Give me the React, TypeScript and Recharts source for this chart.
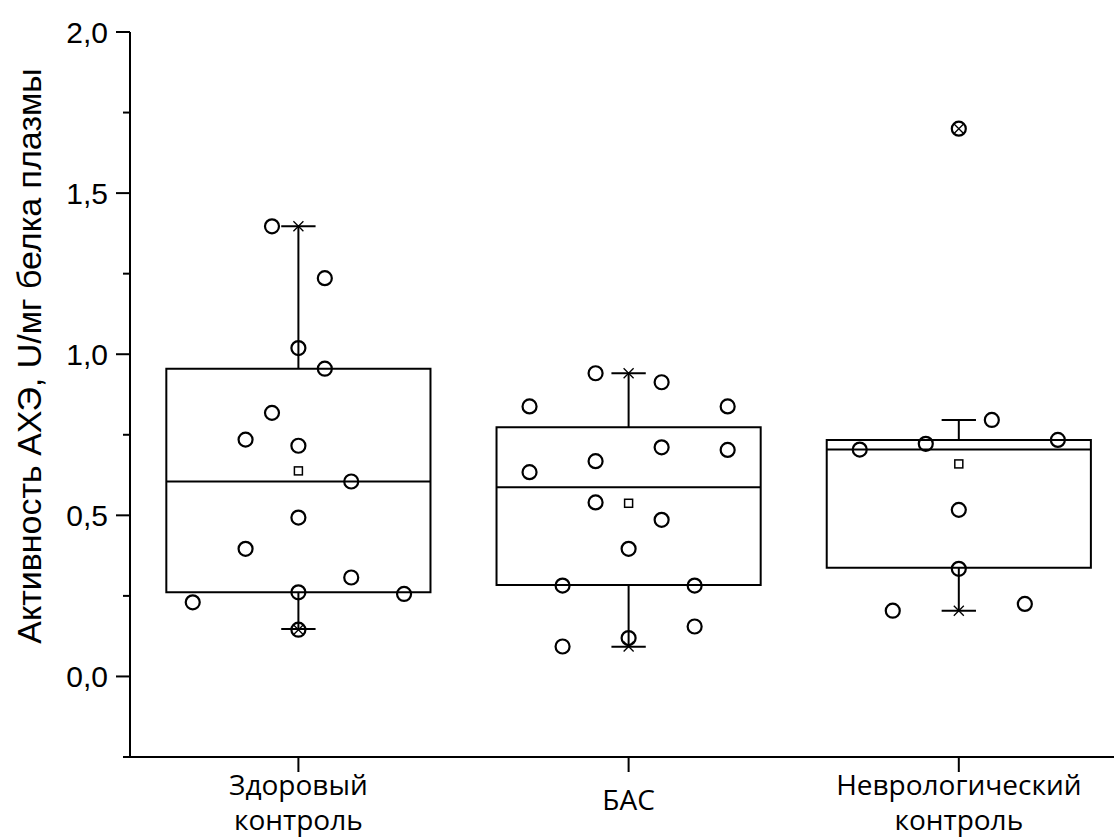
import {
  ComposedChart,
  ReferenceArea,
  ReferenceLine,
  Scatter,
  XAxis,
  YAxis,
} from 'recharts';

// group names (two-line tick labels)
const groupLines = [['Здоровый', 'контроль'], ['БАС'], ['Неврологический', 'контроль']];

const healthyValues = [1.397, 1.236, 1.019, 0.955, 0.818, 0.735, 0.716, 0.605, 0.493, 0.396, 0.307, 0.261, 0.256, 0.23, 0.145];
const healthyJitter = [-0.08, 0.08, 0, 0.08, -0.08, -0.16, 0, 0.16, 0, -0.16, 0.16, 0, 0.32, -0.32, 0];

const alsValues = [0.941, 0.913, 0.838, 0.838, 0.711, 0.703, 0.668, 0.634, 0.54, 0.486, 0.396, 0.282, 0.282, 0.155, 0.119, 0.093];
const alsJitter = [-0.1, 0.1, -0.3, 0.3, 0.1, 0.3, -0.1, -0.3, -0.1, 0.1, 0, -0.2, 0.2, 0.2, 0, -0.2];

const neuroValues = [1.7, 0.796, 0.734, 0.722, 0.704, 0.517, 0.334, 0.225, 0.204];
const neuroJitter = [0, 0.1, 0.3, -0.1, -0.3, 0, 0, 0.2, -0.2];

// box statistics
const q1 = [0.261, 0.284, 0.337];
const median = [0.605, 0.587, 0.704];
const q3 = [0.955, 0.773, 0.734];
const whiskerLow = [0.147, 0.092, 0.204];
const whiskerHigh = [1.397, 0.941, 0.796];

const yTicks = [-0.25, 0, 0.25, 0.5, 0.75, 1, 1.25, 1.5, 1.75, 2];

const allValues = [healthyValues, alsValues, neuroValues];
const allJitter = [healthyJitter, alsJitter, neuroJitter];

const points = allValues.flatMap((vals, g) =>
  vals.map((v, i) => ({ x: g + 1 + allJitter[g][i], y: v }))
);
const means = allValues.map((vals, g) => ({
  x: g + 1,
  y: vals.reduce((a, b) => a + b, 0) / vals.length,
}));
const extremes = allValues.flatMap((vals, g) => [
  { x: g + 1, y: Math.min(...vals) },
  { x: g + 1, y: Math.max(...vals) },
]);

const BOX_HALF = 0.4;
const CAP_HALF = 0.052;

const YTick = ({ x, y, payload }: any) => {
  const v = payload.value;
  const major = Math.abs(v * 2 - Math.round(v * 2)) < 1e-6;
  return (
    <g>
      <line x1={x - (major ? 14 : 7)} x2={x} y1={y} y2={y} stroke="#000" strokeWidth={2} />
      {major && (
        <text
          x={x - 22}
          y={y}
          dy="0.36em"
          textAnchor="end"
          fontSize={30}
          fontFamily="'Liberation Sans', Arial, sans-serif"
          fill="#000"
        >
          {v.toFixed(1).replace('.', ',')}
        </text>
      )}
    </g>
  );
};

const XTick = ({ x, y, payload }: any) => {
  const lines = groupLines[Math.round(payload.value) - 1] || [];
  const common = {
    textAnchor: 'middle' as const,
    fontSize: 28,
    fontFamily: "'Open Sans', sans-serif",
    fill: '#000',
  };
  if (lines.length === 1) {
    return (
      <text x={x} y={y + 38} {...common}>
        {lines[0]}
      </text>
    );
  }
  return (
    <g>
      {lines.map((l: string, i: number) => (
        <text key={i} x={x} y={y + 23 + i * 35} {...common}>
          {l}
        </text>
      ))}
    </g>
  );
};

const YLabel = () => (
  <text
    transform="translate(29, 356) rotate(-90)"
    dy="0.36em"
    textAnchor="middle"
    fontSize={34}
    fontFamily="'Liberation Sans', Arial, sans-serif"
    fill="#000"
  >
    Активность АХЭ, U/мг белка плазмы
  </text>
);

const Circle = (p: any) => (
  <circle cx={p.cx} cy={p.cy} r={7} fill="none" stroke="#000" strokeWidth={2.2} />
);
const Square = (p: any) => (
  <rect x={p.cx - 4} y={p.cy - 4} width={8} height={8} fill="none" stroke="#000" strokeWidth={1.5} />
);
const Cross = (p: any) => (
  <path
    d={`M${p.cx - 5},${p.cy - 5}L${p.cx + 5},${p.cy + 5}M${p.cx - 5},${p.cy + 5}L${p.cx + 5},${p.cy - 5}`}
    stroke="#000"
    strokeWidth={1.3}
  />
);

const App = () => (
  <div style={{ position: 'absolute', left: 0, top: 0 }}>
    <ComposedChart width={1114} height={838} margin={{ top: 32, right: 0, bottom: 0, left: 0 }}>
      <XAxis
        type="number"
        dataKey="x"
        domain={[0.49, 3.47]}
        ticks={[1, 2, 3]}
        interval={0}
        allowDataOverflow
        height={81}
        tickSize={15}
        tickMargin={0}
        tick={<XTick />}
        axisLine={{ stroke: '#000', strokeWidth: 2 }}
        tickLine={{ stroke: '#000', strokeWidth: 2 }}
      />
      <YAxis
        type="number"
        dataKey="y"
        domain={[-0.25, 2]}
        ticks={yTicks}
        interval={0}
        allowDataOverflow
        width={130}
        tickSize={0}
        tickMargin={0}
        tick={<YTick />}
        tickLine={false}
        axisLine={{ stroke: '#000', strokeWidth: 2 }}
        label={<YLabel />}
      />
      {q1.map((lo, g) => (
        <ReferenceArea
          key={`box-${g}`}
          x1={g + 1 - BOX_HALF}
          x2={g + 1 + BOX_HALF}
          y1={lo}
          y2={q3[g]}
          fill="none"
          fillOpacity={0}
          stroke="#000"
          strokeWidth={2}
          strokeOpacity={1}
        />
      ))}
      {median.map((m, g) => (
        <ReferenceLine
          key={`med-${g}`}
          segment={[
            { x: g + 1 - BOX_HALF, y: m },
            { x: g + 1 + BOX_HALF, y: m },
          ]}
          stroke="#000"
          strokeWidth={2}
        />
      ))}
      {whiskerHigh.map((w, g) => (
        <ReferenceLine
          key={`wh-${g}`}
          segment={[
            { x: g + 1, y: q3[g] },
            { x: g + 1, y: w },
          ]}
          stroke="#000"
          strokeWidth={2}
        />
      ))}
      {whiskerLow.map((w, g) => (
        <ReferenceLine
          key={`wl-${g}`}
          segment={[
            { x: g + 1, y: q1[g] },
            { x: g + 1, y: w },
          ]}
          stroke="#000"
          strokeWidth={2}
        />
      ))}
      {whiskerHigh.map((w, g) => (
        <ReferenceLine
          key={`ch-${g}`}
          segment={[
            { x: g + 1 - CAP_HALF, y: w },
            { x: g + 1 + CAP_HALF, y: w },
          ]}
          stroke="#000"
          strokeWidth={2}
        />
      ))}
      {whiskerLow.map((w, g) => (
        <ReferenceLine
          key={`cl-${g}`}
          segment={[
            { x: g + 1 - CAP_HALF, y: w },
            { x: g + 1 + CAP_HALF, y: w },
          ]}
          stroke="#000"
          strokeWidth={2}
        />
      ))}
      <Scatter data={points} shape={Circle} isAnimationActive={false} />
      <Scatter data={means} shape={Square} isAnimationActive={false} />
      <Scatter data={extremes} shape={Cross} isAnimationActive={false} />
    </ComposedChart>
  </div>
);

export default App;
